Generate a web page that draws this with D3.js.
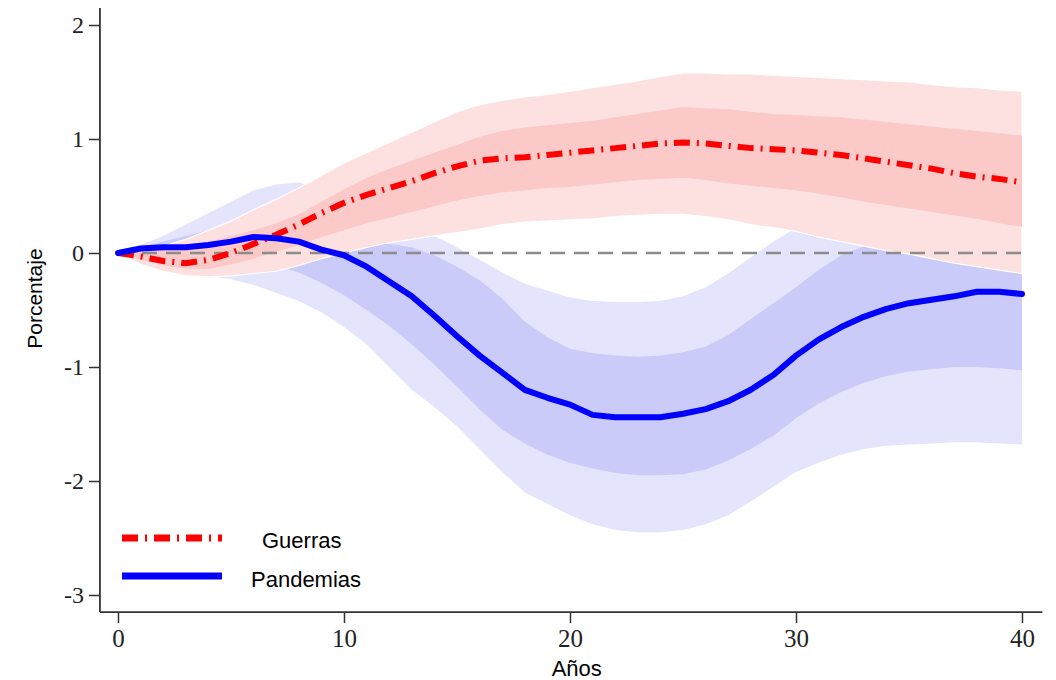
<!DOCTYPE html>
<html>
<head>
<meta charset="utf-8">
<title>Guerras y pandemias</title>
<script src="https://cdn.jsdelivr.net/npm/d3@7"></script>
<style>
  body { margin: 0; background: #fff; }
  .tick text { font-family: "Liberation Serif", "DejaVu Serif", serif; fill: #222; }
  .axis-title, .legend text { font-family: "Liberation Sans", Arial, sans-serif; fill: #000; }
</style>
</head>
<body>
<div id="chart"></div>
<script>
// years after the event
var years = [0,1,2,3,4,5,6,7,8,9,10,11,12,13,14,15,16,17,18,19,20,
             21,22,23,24,25,26,27,28,29,30,31,32,33,34,35,36,37,38,39,40];

// Guerras: point estimate and bands
var guerras = [0,-0.03,-0.07,-0.09,-0.06,0.0,0.08,0.16,0.25,0.35,0.44,0.51,0.57,0.63,0.70,0.76,0.81,0.83,0.84,0.86,0.88,
               0.90,0.92,0.94,0.96,0.97,0.96,0.94,0.92,0.91,0.90,0.88,0.86,0.83,0.80,0.77,0.74,0.70,0.67,0.65,0.62];
var guerrasOuterHi = [0,0.02,0.06,0.12,0.20,0.28,0.38,0.47,0.57,0.68,0.79,0.88,0.97,1.06,1.15,1.24,1.30,1.34,1.37,1.39,1.42,
                      1.45,1.48,1.51,1.55,1.58,1.58,1.57,1.57,1.56,1.55,1.54,1.53,1.52,1.51,1.50,1.48,1.46,1.45,1.43,1.42];
var guerrasInnerHi = [0,0.01,0.03,0.06,0.10,0.15,0.20,0.26,0.34,0.45,0.56,0.66,0.74,0.81,0.88,0.95,1.02,1.07,1.10,1.12,1.14,
                      1.16,1.19,1.22,1.25,1.28,1.27,1.26,1.24,1.22,1.21,1.20,1.19,1.17,1.15,1.13,1.11,1.09,1.07,1.05,1.03];
var guerrasInnerLo = [0,-0.06,-0.11,-0.14,-0.14,-0.10,-0.05,0.01,0.07,0.14,0.20,0.26,0.31,0.36,0.41,0.46,0.50,0.53,0.55,0.57,0.58,
                      0.60,0.62,0.64,0.65,0.66,0.64,0.61,0.59,0.57,0.55,0.52,0.49,0.45,0.42,0.39,0.36,0.33,0.30,0.26,0.23];
var guerrasOuterLo = [0,-0.10,-0.16,-0.20,-0.21,-0.20,-0.18,-0.16,-0.11,-0.05,0.0,0.05,0.09,0.12,0.15,0.18,0.21,0.25,0.27,0.28,0.29,
                      0.30,0.32,0.33,0.34,0.34,0.32,0.29,0.25,0.22,0.19,0.14,0.10,0.06,0.02,-0.01,-0.05,-0.09,-0.12,-0.15,-0.18];

// Pandemias: point estimate and bands
var pandemias = [0,0.04,0.05,0.05,0.07,0.10,0.14,0.13,0.10,0.03,-0.02,-0.12,-0.25,-0.38,-0.55,-0.73,-0.90,-1.05,-1.20,-1.27,-1.33,
                 -1.42,-1.44,-1.44,-1.44,-1.41,-1.37,-1.30,-1.20,-1.07,-0.90,-0.76,-0.65,-0.56,-0.49,-0.44,-0.41,-0.38,-0.34,-0.34,-0.36];
var pandemiasOuterHi = [0,0.07,0.15,0.25,0.35,0.45,0.55,0.60,0.62,0.55,0.45,0.35,0.26,0.20,0.15,0.05,-0.06,-0.17,-0.27,-0.33,-0.39,
                        -0.42,-0.43,-0.43,-0.42,-0.38,-0.30,-0.18,-0.04,0.10,0.22,0.30,0.32,0.32,0.30,0.28,0.25,0.22,0.20,0.18,0.15];
var pandemiasInnerHi = [0,0.05,0.10,0.15,0.20,0.24,0.27,0.25,0.20,0.14,0.10,0.09,0.08,0.05,-0.02,-0.12,-0.24,-0.40,-0.60,-0.74,-0.84,
                        -0.88,-0.90,-0.91,-0.90,-0.87,-0.82,-0.72,-0.58,-0.44,-0.30,-0.15,-0.02,0.06,0.10,0.12,0.12,0.12,0.10,0.08,0.06];
var pandemiasInnerLo = [0,-0.03,-0.05,-0.07,-0.08,-0.09,-0.10,-0.11,-0.17,-0.26,-0.37,-0.50,-0.64,-0.80,-0.98,-1.17,-1.37,-1.55,-1.67,-1.77,-1.84,
                        -1.89,-1.93,-1.95,-1.95,-1.94,-1.90,-1.82,-1.72,-1.60,-1.45,-1.32,-1.22,-1.14,-1.08,-1.04,-1.02,-1.00,-1.00,-1.01,-1.03];
var pandemiasOuterLo = [0,-0.08,-0.13,-0.17,-0.20,-0.23,-0.28,-0.35,-0.42,-0.52,-0.65,-0.80,-1.00,-1.20,-1.35,-1.52,-1.72,-1.92,-2.10,-2.20,-2.30,
                        -2.38,-2.43,-2.45,-2.45,-2.43,-2.38,-2.30,-2.18,-2.05,-1.92,-1.84,-1.77,-1.72,-1.69,-1.68,-1.67,-1.66,-1.66,-1.67,-1.68];

var xTicks = [0, 10, 20, 30, 40];
var yTicks = [-3, -2, -1, 0, 1, 2];
var seriesNames = ['Guerras', 'Pandemias'];

var width = 1056, height = 680;

var svg = d3.select('#chart').append('svg')
    .attr('width', width)
    .attr('height', height);

var x = d3.scaleLinear().domain([0, 40]).range([118, 1022]);
var y = d3.scaleLinear().domain([-3, 2]).range([595, 25]);

function band(lo, hi) {
    return d3.area()
        .x(function (d, i) { return x(years[i]); })
        .y0(function (d, i) { return y(lo[i]); })
        .y1(function (d, i) { return y(hi[i]); })(years);
}
function line(vals) {
    return d3.line()
        .x(function (d, i) { return x(years[i]); })
        .y(function (d, i) { return y(vals[i]); })(years);
}

// bands: blue first, red on top
svg.append('path').attr('d', band(pandemiasOuterLo, pandemiasOuterHi)).attr('fill', '#e4e4fc');
svg.append('path').attr('d', band(pandemiasInnerLo, pandemiasInnerHi)).attr('fill', '#cbcbfa');
svg.append('path').attr('d', band(guerrasOuterLo, guerrasOuterHi)).attr('fill', '#fde1e1')
    .attr('stroke', '#fff').attr('stroke-width', 1.2);
svg.append('path').attr('d', band(guerrasInnerLo, guerrasInnerHi)).attr('fill', '#fcc9c9');

// zero reference line
svg.append('line')
    .attr('x1', x(0)).attr('x2', x(40))
    .attr('y1', y(0)).attr('y2', y(0))
    .attr('stroke', '#8c8c8c').attr('stroke-width', 2.5)
    .attr('stroke-dasharray', '15,9');

svg.append('path').attr('d', line(guerras))
    .attr('fill', 'none').attr('stroke', '#ff0000').attr('stroke-width', 6)
    .attr('stroke-dasharray', '16,7,2,7');
svg.append('path').attr('d', line(pandemias))
    .attr('fill', 'none').attr('stroke', '#0000ff').attr('stroke-width', 6)
    .attr('stroke-linecap', 'round').attr('stroke-linejoin', 'round');

// axes (plain hyphen for negatives, as in the original)
var fmt = function (d) { return String(d); };

var yAxis = svg.append('g').attr('transform', 'translate(' + x(-0.8) + ',0)')
    .call(d3.axisLeft(y).tickValues(yTicks).tickSize(11).tickPadding(5).tickFormat(fmt));
yAxis.select('.domain').remove();
yAxis.selectAll('.tick line').attr('stroke', '#333').attr('stroke-width', 1.5);
yAxis.selectAll('.tick text').style('font-size', '24px');

var xAxis = svg.append('g').attr('transform', 'translate(0,' + y(-3.15) + ')')
    .call(d3.axisBottom(x).tickValues(xTicks).tickSize(11).tickPadding(6).tickFormat(fmt));
xAxis.select('.domain').remove();
xAxis.selectAll('.tick line').attr('stroke', '#333').attr('stroke-width', 1.5);
xAxis.selectAll('.tick text').style('font-size', '25px');

// axis lines
svg.append('line').attr('x1', x(-0.8)).attr('x2', x(-0.8)).attr('y1', y(2.15)).attr('y2', y(-3.15))
    .attr('stroke', '#333').attr('stroke-width', 1.8);
svg.append('line').attr('x1', x(-0.8)).attr('x2', x(40.9)).attr('y1', y(-3.15)).attr('y2', y(-3.15))
    .attr('stroke', '#333').attr('stroke-width', 1.8);

// axis titles
svg.append('text').attr('class', 'axis-title')
    .attr('transform', 'translate(42,' + y(-0.4) + ') rotate(-90)')
    .attr('text-anchor', 'middle')
    .style('font-size', '21px')
    .text('Porcentaje');
svg.append('text').attr('class', 'axis-title')
    .attr('x', x(20.3)).attr('y', 676)
    .attr('text-anchor', 'middle')
    .style('font-size', '22px')
    .text('Años');

// legend
var legend = svg.append('g').attr('class', 'legend');
legend.append('line').attr('x1', 122).attr('x2', 222).attr('y1', 538).attr('y2', 538)
    .attr('stroke', '#ff0000').attr('stroke-width', 7).attr('stroke-dasharray', '16,7,2,7');
legend.append('line').attr('x1', 122).attr('x2', 222).attr('y1', 576).attr('y2', 576)
    .attr('stroke', '#0000ff').attr('stroke-width', 7);
legend.append('text').attr('x', 262).attr('y', 548).style('font-size', '22px').text(seriesNames[0]);
legend.append('text').attr('x', 251).attr('y', 587).style('font-size', '22px').text(seriesNames[1]);
</script>
</body>
</html>
